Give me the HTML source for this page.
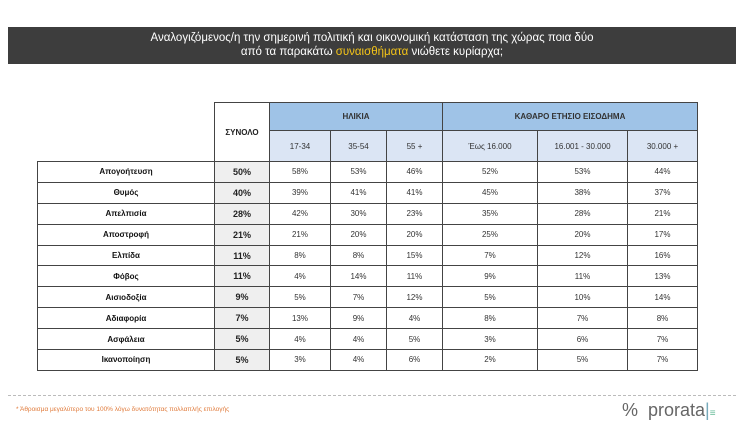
<!DOCTYPE html>
<html><head><meta charset="utf-8"><style>
body{margin:0;width:742px;height:441px;background:#fff;font-family:"Liberation Sans","DejaVu Sans",sans-serif;position:relative;overflow:hidden}
#hdr{position:absolute;left:8px;top:27px;width:728px;height:37px;background:#3d3d3d;color:#fff;font-size:11.5px;text-align:center;line-height:14px;padding-top:4px;box-sizing:border-box}
#hdr span{color:#f5c518}
table{position:absolute;left:37px;top:102px;border-collapse:collapse;font-size:8px;color:#333}
td{border:1px solid #444;text-align:center;padding:0;height:19.9px}
.lab{width:176px;font-weight:bold;color:#111;border:1px solid #444}
.tot{width:54px;background:#efefef;font-weight:bold;color:#222;font-size:9px}
.h1{background:#9fc3e7;font-weight:bold;height:27px}
.h2{background:#dbe5f4;height:30px}
.blank{border:none;border-bottom:1px solid #444}
#dash{position:absolute;left:8px;top:395px;width:728px;border-top:1px dashed #bbb}
#foot{position:absolute;left:16px;top:406px;font-size:6.5px;color:#e07a3a}
#logo{position:absolute;left:622px;top:400px;font-size:18px;color:#666;font-weight:normal}
</style></head><body>
<div id="hdr">Αναλογιζόμενος/η την σημερινή πολιτική και οικονομική κατάσταση της χώρας ποια δύο<br>από τα παρακάτω <span>συναισθήματα</span> νιώθετε κυρίαρχα;</div>
<table><tbody id="tb">
<tr><td class="blank" rowspan="2" style="border-bottom:1px solid #444;border-left:none;border-top:none"></td><td class="tot" rowspan="2" style="background:#fff;font-size:8px">ΣΥΝΟΛΟ</td><td class="h1" colspan="3">ΗΛΙΚΙΑ</td><td class="h1" colspan="3">ΚΑΘΑΡΟ ΕΤΗΣΙΟ ΕΙΣΟΔΗΜΑ</td></tr>
<tr><td class="h2" style="width:60px">17-34</td><td class="h2" style="width:55px">35-54</td><td class="h2" style="width:55px">55 +</td><td class="h2" style="width:94px">Έως 16.000</td><td class="h2" style="width:89px">16.001 - 30.000</td><td class="h2" style="width:69px">30.000 +</td></tr>
</tbody></table>
<div id="dash"></div>
<div id="foot">* Άθροισμα μεγαλύτερο του 100% λόγω δυνατότητας πολλαπλής επιλογής</div>
<div id="logo">%&nbsp; prorata<span style="color:#7ab">|</span><span style="font-size:10px;color:#6b9">≡</span></div>
<script>
const emotions=["Απογοήτευση","Θυμός","Απελπισία","Αποστροφή","Ελπίδα","Φόβος","Αισιοδοξία","Αδιαφορία","Ασφάλεια","Ικανοποίηση"];
const total=[50,40,28,21,11,11,9,7,5,5];
const age1734=[58,39,42,21,8,4,5,13,4,3];
const age3554=[53,41,30,20,8,14,7,9,4,4];
const age55=[46,41,23,20,15,11,12,4,5,6];
const inc16=[52,45,35,25,7,9,5,8,3,2];
const inc30=[53,38,28,20,12,11,10,7,6,5];
const inc30p=[44,37,21,17,16,13,14,8,7,7];
const tb=document.getElementById('tb');
emotions.forEach((e,i)=>{
const tr=document.createElement('tr');


const l=document.createElement('td');l.className='lab';l.textContent=e;


tr.appendChild(l);
const t=document.createElement('td');t.className='tot';t.textContent=total[i]+'%';


tr.appendChild(t);
[age1734,age3554,age55,inc16,inc30,inc30p].forEach(a=>{
const c=document.createElement('td');c.textContent=a[i]+'%';


tr.appendChild(c);});
tb.appendChild(tr);});
</script>
</body></html>
